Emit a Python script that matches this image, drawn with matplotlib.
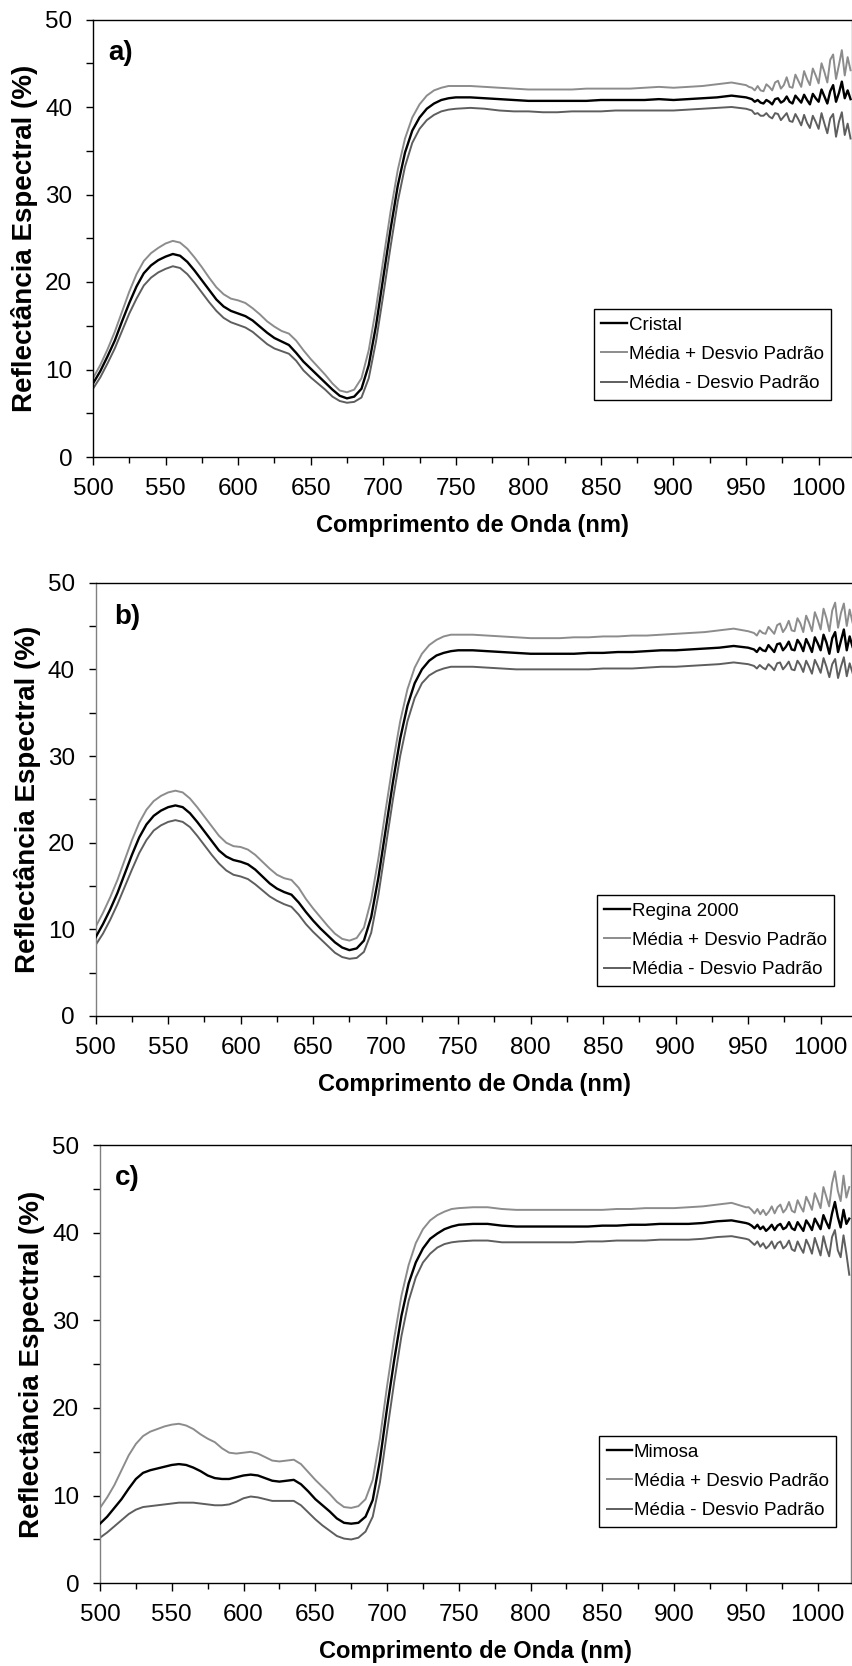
import matplotlib
matplotlib.use('Agg')
import matplotlib.pyplot as plt
from matplotlib.ticker import MultipleLocator

plt.rcParams['font.family'] = ['Liberation Sans', 'DejaVu Sans']

# ---------------- data ----------------
wavelength = [500, 505, 510, 515, 520, 525, 530, 535, 540, 545,
              550, 555, 560, 565, 570, 575, 580, 585, 590, 595,
              600, 605, 610, 615, 620, 625, 630, 635, 640, 645,
              650, 655, 660, 665, 670, 675, 680, 685, 690, 695,
              700, 705, 710, 715, 720, 725, 730, 735, 740, 745,
              750,
              760, 770, 780, 790, 800, 810, 820, 830, 840, 850,
              860, 870, 880, 890, 900, 910, 920, 930, 940, 950,
              952, 954, 956, 958, 960, 962, 964, 966, 968, 970,
              972, 974, 976, 978, 980, 982, 984, 986, 988, 990,
              992, 994, 996, 998, 1000, 1002, 1004, 1006, 1008, 1010,
              1012, 1014, 1016, 1018, 1020, 1022]

x_ticks = [500, 550, 600, 650, 700, 750, 800, 850, 900, 950, 1000]
y_ticks = [0, 10, 20, 30, 40, 50]

panel_labels = ['a)', 'b)', 'c)']
cultivars = ['Cristal', 'Regina 2000', 'Mimosa']
band_labels = ['Média + Desvio Padrão', 'Média - Desvio Padrão']
x_title = 'Comprimento de Onda (nm)'
y_title = 'Reflectância Espectral (%)'

# Panel a) Cristal
cristal_mean = [8.4, 9.8, 11.5, 13.3, 15.5, 17.6, 19.5, 21.0, 21.9, 22.5,
                22.9, 23.2, 23.0, 22.3, 21.3, 20.2, 19.1, 18.0, 17.2, 16.7,
                16.4, 16.1, 15.6, 14.9, 14.2, 13.6, 13.2, 12.8, 11.9, 10.9,
                10.1, 9.3, 8.5, 7.7, 7.0, 6.7, 6.9, 7.8, 10.5, 15.0,
                20.5, 26.0, 31.0, 34.8, 37.3, 38.8, 39.8, 40.4, 40.8, 41.0,
                41.1,
                41.1, 41.0, 40.9, 40.8, 40.7, 40.7, 40.7, 40.7, 40.7, 40.8,
                40.8, 40.8, 40.8, 40.9, 40.8, 40.9, 41.0, 41.1, 41.3, 41.1,
                41.0, 40.9, 40.6, 40.8, 40.5, 40.4, 40.8, 40.6, 40.3, 40.9,
                41.0, 40.5, 40.7, 41.2, 40.6, 40.4, 41.3, 40.9, 40.5, 41.4,
                40.8, 40.3, 41.5, 41.0, 40.6, 42.0, 41.2, 40.4, 41.8, 42.5,
                40.6, 41.6, 42.9, 41.0, 41.9, 40.9]
cristal_upper = [9.0, 10.5, 12.3, 14.3, 16.6, 18.9, 20.9, 22.4, 23.3, 23.9,
                 24.4, 24.7, 24.5, 23.8, 22.8, 21.7, 20.5, 19.4, 18.6, 18.1,
                 17.9, 17.6, 17.0, 16.3, 15.5, 14.9, 14.4, 14.1, 13.3, 12.2,
                 11.2, 10.3, 9.4, 8.4, 7.6, 7.4, 7.7, 9.0, 12.2, 17.0,
                 22.5, 28.0, 32.8, 36.4, 38.8, 40.3, 41.3, 41.9, 42.2, 42.4,
                 42.4,
                 42.4, 42.3, 42.2, 42.1, 42.0, 42.0, 42.0, 42.0, 42.1, 42.1,
                 42.1, 42.1, 42.2, 42.3, 42.2, 42.3, 42.4, 42.6, 42.8, 42.5,
                 42.3, 42.2, 41.9, 42.4, 41.9, 41.8, 42.6, 42.3, 41.9, 42.8,
                 43.0, 42.1, 42.5, 43.4, 42.3, 42.2, 43.7, 43.0, 42.3, 44.1,
                 43.2, 42.5, 44.4, 43.6, 42.7, 45.0, 44.0, 42.8, 45.4, 46.0,
                 43.2, 44.8, 46.5, 43.6, 45.7, 44.2]
cristal_lower = [7.8, 9.1, 10.7, 12.4, 14.4, 16.4, 18.1, 19.6, 20.5, 21.1,
                 21.5, 21.8, 21.6, 20.9, 19.9, 18.8, 17.7, 16.7, 15.9, 15.4,
                 15.1, 14.8, 14.3, 13.6, 12.9, 12.4, 12.1, 11.8, 11.0, 9.9,
                 9.1, 8.4, 7.7, 6.9, 6.4, 6.2, 6.3, 6.8, 9.0, 13.2,
                 18.5, 24.0, 29.2, 33.2, 35.9, 37.5, 38.5, 39.1, 39.5, 39.7,
                 39.8,
                 39.9, 39.8, 39.6, 39.5, 39.5, 39.4, 39.4, 39.5, 39.5, 39.5,
                 39.6, 39.6, 39.6, 39.6, 39.6, 39.7, 39.8, 39.9, 40.0, 39.8,
                 39.7, 39.6, 39.2, 39.3, 39.0, 39.0, 39.3, 38.9, 38.7, 39.3,
                 39.2, 38.5, 38.9, 39.3, 38.4, 38.3, 39.2, 38.6, 37.9, 39.1,
                 38.2, 37.6, 39.0, 38.3, 37.5, 39.3, 38.1, 37.0, 38.7, 39.2,
                 36.6, 38.3, 39.4, 36.8, 38.1, 36.4]

# Panel b) Regina 2000
regina_mean = [9.1, 10.6, 12.3, 14.2, 16.4, 18.6, 20.6, 22.1, 23.1, 23.7,
               24.1, 24.3, 24.1, 23.4, 22.4, 21.3, 20.2, 19.1, 18.4, 18.0,
               17.8, 17.5, 16.9, 16.1, 15.3, 14.7, 14.3, 14.0, 13.1, 12.0,
               11.0, 10.1, 9.3, 8.5, 7.9, 7.6, 7.8, 8.7, 11.4, 16.0,
               21.5, 27.0, 32.0, 35.8, 38.4, 40.0, 41.0, 41.6, 41.9, 42.1,
               42.2,
               42.2, 42.1, 42.0, 41.9, 41.8, 41.8, 41.8, 41.8, 41.9, 41.9,
               42.0, 42.0, 42.1, 42.2, 42.2, 42.3, 42.4, 42.5, 42.7, 42.5,
               42.4, 42.3, 42.0, 42.5, 42.2, 42.1, 42.8, 42.4, 42.0, 42.9,
               43.0, 42.2, 42.6, 43.2, 42.3, 42.2, 43.4, 42.9, 42.1, 43.5,
               42.8, 42.0, 43.7, 43.0, 42.2, 44.0, 43.1, 41.8, 43.6, 44.3,
               42.0, 43.3, 44.6, 42.2, 43.8, 42.6]
regina_upper = [10.3, 11.9, 13.7, 15.7, 18.0, 20.3, 22.3, 23.8, 24.8, 25.4,
                25.8, 26.0, 25.8, 25.1, 24.1, 23.0, 21.9, 20.8, 20.0, 19.6,
                19.5, 19.2, 18.6, 17.8, 17.0, 16.3, 15.9, 15.7, 14.8, 13.5,
                12.4, 11.4, 10.4, 9.5, 8.9, 8.7, 9.0, 10.2, 13.4, 18.2,
                23.8, 29.2, 34.0, 37.7, 40.2, 41.8, 42.8, 43.4, 43.8, 44.0,
                44.0,
                44.0, 43.9, 43.8, 43.7, 43.6, 43.6, 43.6, 43.7, 43.7, 43.8,
                43.8, 43.9, 43.9, 44.0, 44.1, 44.2, 44.3, 44.5, 44.7, 44.4,
                44.3, 44.2, 43.9, 44.5, 44.2, 44.1, 44.9, 44.5, 44.1, 45.1,
                45.3, 44.3, 44.8, 45.6, 44.5, 44.4, 45.9, 45.3, 44.3, 46.2,
                45.4, 44.4, 46.6, 45.7, 44.6, 47.0, 45.9, 44.4, 46.8, 47.7,
                44.8, 46.5, 47.6, 45.0, 46.9, 45.4]
regina_lower = [8.2, 9.5, 11.1, 12.9, 14.9, 16.9, 18.8, 20.3, 21.4, 22.0,
                22.4, 22.6, 22.4, 21.8, 20.8, 19.7, 18.6, 17.6, 16.8, 16.3,
                16.1, 15.8, 15.2, 14.5, 13.8, 13.3, 12.9, 12.6, 11.7, 10.6,
                9.7, 8.9, 8.1, 7.3, 6.8, 6.6, 6.7, 7.4, 9.6, 14.0,
                19.5, 25.0, 30.0, 34.0, 36.7, 38.4, 39.3, 39.8, 40.1, 40.3,
                40.3,
                40.3, 40.2, 40.1, 40.0, 40.0, 40.0, 40.0, 40.0, 40.0, 40.1,
                40.1, 40.1, 40.2, 40.3, 40.3, 40.4, 40.5, 40.6, 40.8, 40.6,
                40.5, 40.4, 40.1, 40.5, 40.2, 40.0, 40.6, 40.3, 39.9, 40.7,
                40.8, 40.0, 40.4, 40.9, 40.0, 39.9, 41.0, 40.5, 39.7, 41.0,
                40.3, 39.5, 41.1, 40.4, 39.6, 41.3, 40.3, 39.1, 40.6, 41.2,
                39.0, 40.3, 41.4, 39.2, 40.7, 39.6]

# Panel c) Mimosa
mimosa_mean = [6.8, 7.6, 8.6, 9.6, 10.8, 11.9, 12.6, 12.9, 13.1, 13.3,
               13.5, 13.6, 13.5, 13.2, 12.8, 12.3, 12.0, 11.9, 11.9, 12.1,
               12.3, 12.4, 12.3, 12.0, 11.7, 11.6, 11.7, 11.8, 11.3, 10.5,
               9.6, 8.9, 8.2, 7.4, 6.9, 6.8, 6.9, 7.6, 9.5, 14.0,
               20.0, 25.5, 30.5, 34.2, 36.6, 38.2, 39.3, 39.9, 40.4, 40.7,
               40.9,
               41.0, 41.0, 40.8, 40.7, 40.7, 40.7, 40.7, 40.7, 40.7, 40.8,
               40.8, 40.9, 40.9, 41.0, 41.0, 41.0, 41.1, 41.3, 41.4, 41.1,
               41.0, 40.8, 40.5, 40.9, 40.4, 40.7, 40.2, 40.5, 40.9, 40.3,
               40.8, 41.0, 40.4, 40.6, 41.2, 40.5, 40.3, 41.2, 40.7, 40.2,
               41.4, 40.9, 40.3, 41.6, 41.0, 40.4, 42.0, 41.2, 40.5, 42.2,
               43.5, 41.8, 40.6, 42.6, 41.0, 41.6]
mimosa_upper = [8.6, 9.8, 11.2, 12.9, 14.6, 15.9, 16.8, 17.3, 17.6, 17.9,
                18.1, 18.2, 18.0, 17.6, 17.0, 16.5, 16.1, 15.4, 14.9, 14.8,
                14.9, 15.0, 14.8, 14.4, 14.0, 13.9, 14.0, 14.1, 13.6, 12.7,
                11.8, 11.0, 10.2, 9.3, 8.7, 8.6, 8.8, 9.6, 11.8, 16.5,
                22.5, 28.0, 32.8, 36.3, 38.8, 40.4, 41.4, 42.0, 42.4, 42.7,
                42.8,
                42.9, 42.9, 42.7, 42.6, 42.6, 42.6, 42.6, 42.6, 42.6, 42.6,
                42.7, 42.7, 42.8, 42.8, 42.8, 42.9, 43.0, 43.2, 43.4, 42.9,
                42.9, 42.6, 42.2, 42.7, 42.1, 42.6, 42.0, 42.4, 43.0, 42.2,
                42.9, 43.2, 42.3, 42.7, 43.5, 42.5, 42.3, 43.7, 43.0, 42.4,
                44.1, 43.4, 42.6, 44.5, 43.7, 42.8, 45.2, 44.1, 43.0, 45.6,
                47.0, 44.8, 43.6, 46.5, 44.0, 45.2]
mimosa_lower = [5.2, 5.8, 6.5, 7.2, 7.9, 8.4, 8.7, 8.8, 8.9, 9.0,
                9.1, 9.2, 9.2, 9.2, 9.1, 9.0, 8.9, 8.9, 9.0, 9.3,
                9.7, 9.9, 9.8, 9.6, 9.4, 9.4, 9.4, 9.4, 8.9, 8.1,
                7.3, 6.6, 6.0, 5.4, 5.1, 5.0, 5.2, 5.9, 7.6, 11.5,
                17.3, 23.0, 28.2, 32.2, 34.9, 36.6, 37.6, 38.3, 38.7, 38.9,
                39.0,
                39.1, 39.1, 38.9, 38.9, 38.9, 38.9, 38.9, 38.9, 39.0, 39.0,
                39.1, 39.1, 39.1, 39.2, 39.2, 39.2, 39.3, 39.5, 39.6, 39.3,
                39.2, 38.9, 38.6, 39.0, 38.4, 38.8, 38.2, 38.5, 39.0, 38.2,
                38.8, 39.0, 38.2, 38.5, 39.1, 38.1, 37.9, 39.0, 38.3, 37.7,
                39.2, 38.5, 37.6, 39.4, 38.4, 37.4, 39.6, 38.3, 37.3, 39.5,
                40.3, 38.0, 37.2, 39.7, 37.6, 35.2]

panels = [
    (cristal_mean, cristal_upper, cristal_lower),
    (regina_mean, regina_upper, regina_lower),
    (mimosa_mean, mimosa_upper, mimosa_lower),
]

# ---------------- layout (pixel boxes) ----------------
W, H = 853, 1666
axes_px = [(93, 19.5, 852, 457), (95.7, 582.7, 854, 1016), (100, 1145, 850.7, 1583.3)]
legend_px = [(594, 309), (597, 895), (599, 1436)]
label_pos = [(0.020, 0.923), (0.024, 0.921), (0.020, 0.925)]

fig = plt.figure(figsize=(W / 100, H / 100), dpi=100)

mean_color = '#000000'
upper_color = '#8c8c8c'
lower_color = '#5e5e5e'

for i, (mean, upper, lower) in enumerate(panels):
    l, t, r, b = axes_px[i]
    ax = fig.add_axes([l / W, 1 - b / H, (r - l) / W, (b - t) / H])
    ax.plot(wavelength, mean, color=mean_color, lw=1.7, label=cultivars[i], zorder=3)
    ax.plot(wavelength, upper, color=upper_color, lw=1.4, label=band_labels[0], zorder=2)
    ax.plot(wavelength, lower, color=lower_color, lw=1.4, label=band_labels[1], zorder=2)

    ax.set_xlim(500, 1023)
    ax.set_ylim(0, 50)
    ax.set_xticks(x_ticks)
    ax.set_yticks(y_ticks)
    ax.xaxis.set_minor_locator(MultipleLocator(25))
    ax.yaxis.set_minor_locator(MultipleLocator(5))
    ax.tick_params(axis='both', which='both', direction='out', color='black', width=1.0,
                   top=False, right=False)
    ax.tick_params(axis='x', which='major', length=5.5, pad=9.5, labelsize=17.5)
    ax.tick_params(axis='x', which='minor', length=4.5)
    ax.tick_params(axis='y', which='major', length=5.0, pad=10, labelsize=17.5)
    ax.tick_params(axis='y', which='minor', length=5.0)

    ax.spines['top'].set_color('black')
    ax.spines['bottom'].set_color('black')
    ax.spines['left'].set_color('#000000' if i == 0 else '#808080')
    ax.spines['right'].set_color('#808080')
    for s in ax.spines.values():
        s.set_linewidth(1.0)

    ax.set_xlabel(x_title, fontsize=17, fontweight='bold', labelpad=10)
    ax.set_ylabel(y_title, fontsize=20, fontweight='bold', labelpad=5)

    ax.text(label_pos[i][0], label_pos[i][1], panel_labels[i], transform=ax.transAxes,
            fontsize=20, fontweight='bold', ha='left', va='center')

    lx, ly = legend_px[i]
    leg = ax.legend(loc='upper left', bbox_to_anchor=(lx / W, 1 - ly / H),
                    bbox_transform=fig.transFigure, borderaxespad=0,
                    fontsize=13.5, frameon=True, fancybox=False, shadow=False,
                    handlelength=1.35, handletextpad=0.1, labelspacing=0.65,
                    borderpad=0.4, framealpha=1)
    leg.get_frame().set_edgecolor('#000000')
    leg.get_frame().set_linewidth(1.0)

fig.savefig('out.png', dpi=100)
